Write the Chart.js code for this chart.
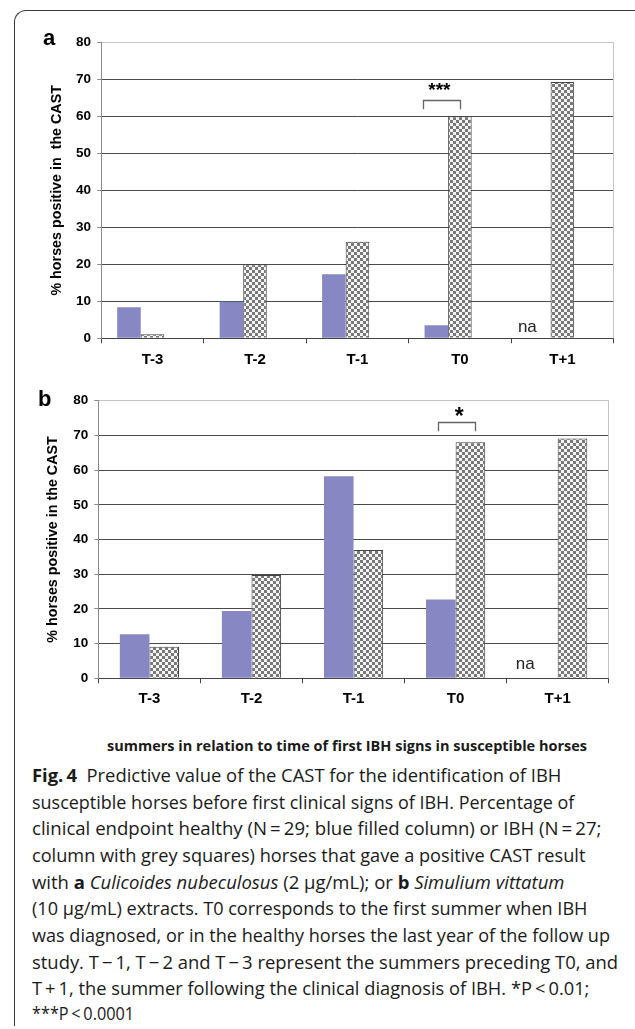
<!DOCTYPE html>
<html><head><meta charset="utf-8">
<script src="https://cdn.jsdelivr.net/npm/chart.js@4"></script>
<style>
html,body{margin:0;padding:0;background:#fff;}
body{width:635px;height:1029px;position:relative;overflow:hidden;}
#frame{position:absolute;left:14px;top:10px;width:800px;height:1015px;border-top:1px solid #3a3a3a;border-left:1px solid #3a3a3a;border-top-left-radius:12px;}
canvas{position:absolute;left:0;}
.txt{position:absolute;white-space:nowrap;transform-origin:0 50%;font-family:"Open Sans",sans-serif;color:#1a1a1a;}
</style></head><body>
<div id="frame"></div>
<canvas id="ca" width="635" height="380" style="top:0px"></canvas>
<canvas id="cb" width="635" height="352" style="top:380px"></canvas>
<script>
// ---- data ----
const categories = ['T-3', 'T-2', 'T-1', 'T0', 'T+1'];
const healthyA = [8.4, 9.9, 17.3, 3.5, null];
const ibhA     = [1.1, 20, 26.1, 60, 69.3];
const emptyA   = [null, null, null, null, null];
const healthyB = [12.7, 19.4, 58.2, 22.7, null];
const ibhB     = [9.1, 29.8, 37.0, 68, 69.1];
const yMin = 0, yMax = 80, yStep = 10;
const yTitleA = '% horses positive in  the CAST';
const yTitleB = '% horses positive in the CAST';
const xTitleB = 'summers in relation to time of first IBH signs in susceptible horses';
const naText = 'na', naCategory = 'T+1';
const sigA = {category: 'T0', text: '***'};
const sigB = {category: 'T0', text: '*'};

Chart.defaults.font.family = '"Liberation Sans", Arial, sans-serif';
Chart.defaults.color = '#000';

function checker() {
  const c = document.createElement('canvas'); c.width = 6; c.height = 6;
  const g = c.getContext('2d');
  g.fillStyle = '#f4f4f4'; g.fillRect(0, 0, 6, 6);
  g.fillStyle = '#787878'; g.fillRect(0, 0, 3, 3); g.fillRect(3, 3, 3, 3);
  return g.createPattern(c, 'repeat');
}
const BLUE = '#8788c3';

const decor = {
  id: 'decor',
  afterDatasetsDraw(chart, args, o) {
    const ctx = chart.ctx, xs = chart.scales.x, ys = chart.scales.y, a = chart.chartArea;
    ctx.save();
    ctx.strokeStyle = '#c4c4c4'; ctx.lineWidth = 1;
    const rx = Math.round(a.right) - 0.5;
    ctx.beginPath(); ctx.moveTo(rx, a.top); ctx.lineTo(rx, a.bottom); ctx.stroke();
    ctx.fillStyle = '#000';
    ctx.font = 'bold 22px "Liberation Sans", Arial';
    ctx.textAlign = 'left'; ctx.textBaseline = 'alphabetic';
    ctx.fillText(o.letter, o.letterX, o.letterY);
    // na
    const ni = categories.indexOf(naCategory);
    ctx.fillStyle = '#222';
    ctx.font = '17px "Liberation Sans", Arial';
    ctx.textAlign = 'center'; ctx.textBaseline = 'middle';
    ctx.fillText(naText, xs.getPixelForValue(ni) + o.naDx, ys.getPixelForValue(o.naY));
    // significance bracket
    const si = categories.indexOf(o.sig.category);
    const sc = xs.getPixelForValue(si);
    const x1 = Math.round(sc + o.bL) + 0.5, x2 = Math.round(sc + o.bR) + 0.5;
    const yt = Math.round(ys.getPixelForValue(o.bTop)) + 0.5, yb = ys.getPixelForValue(o.bBot);
    ctx.strokeStyle = '#666'; ctx.lineWidth = 1.3;
    ctx.beginPath(); ctx.moveTo(x1, yb); ctx.lineTo(x1, yt); ctx.lineTo(x2, yt); ctx.lineTo(x2, yb); ctx.stroke();
    ctx.fillStyle = '#000';
    ctx.font = 'bold ' + o.starSize + 'px "Liberation Sans", Arial';
    ctx.textAlign = 'center'; ctx.textBaseline = 'middle';
    ctx.fillText(o.sig.text, sc + o.starDx, ys.getPixelForValue(o.starY) + o.starSize * 0.22);
    ctx.restore();
  }
};

function makeChart(id, datasets, cfg) {
  return new Chart(document.getElementById(id), {
    type: 'bar',
    data: {labels: categories, datasets},
    plugins: [decor],
    options: {
      responsive: false, animation: false, devicePixelRatio: 1,
      layout: {padding: {left: 0, top: cfg.top, right: cfg.right, bottom: 0}},
      datasets: {bar: {categoryPercentage: cfg.cat, barPercentage: 1}},
      plugins: {legend: {display: false}, tooltip: {enabled: false}, decor: cfg.decor},
      scales: {
        x: {
          afterFit(s) { s.height = cfg.xh; },
          grid: {display: true, drawOnChartArea: false, offset: true, tickLength: 5, color: '#444', lineWidth: 1},
          border: {color: '#444', width: 1},
          ticks: {font: {size: 15, weight: 'bold'}, color: '#000', padding: cfg.xpad, maxRotation: 0}
        },
        y: {
          min: yMin, max: yMax,
          afterFit(s) { s.width = cfg.yw; },
          ticks: {stepSize: yStep, font: {size: 13.5, weight: 'bold'}, color: '#000', padding: 6.2},
          grid: {color: c => c.tick && c.tick.value === yMax ? '#c4c4c4' : '#4a4a4a', lineWidth: 1, tickLength: 4, tickColor: '#8a8a8a'},
          border: {color: '#8a8a8a', width: 1},
          title: {display: true, text: cfg.ytitle, font: {size: 14.3, weight: 'bold'}, color: '#000', padding: {top: cfg.ytp, bottom: 0}}
        }
      }
    }
  });
}

makeChart('ca', [
  {data: healthyA, backgroundColor: BLUE, borderWidth: 0},
  {data: ibhA, backgroundColor: checker(), borderColor: '#444', borderWidth: 1},
  {data: emptyA, backgroundColor: 'rgba(0,0,0,0)'}
], {top: 42.3, right: 21.4, cat: 0.69, xh: 41.7, yw: 101.3, xpad: 8, ytitle: yTitleA, ytp: 48,
   decor: {letter: 'a', letterX: 43, letterY: 45, naDx: -35, naY: 3.1,
           sig: sigA, bL: -37, bR: 0, bTop: 64.4, bBot: 61.9, starDx: -20.5, starY: 67.9, starSize: 19}});

makeChart('cb', [
  {data: healthyB, backgroundColor: BLUE, borderWidth: 0},
  {data: ibhB, backgroundColor: checker(), borderColor: '#444', borderWidth: 1}
], {top: 20.7, right: 26.3, cat: 0.58, xh: 53.7, yw: 98.4, xpad: 6.5, ytitle: yTitleB, ytp: 44.5,
   decor: {letter: 'b', letterX: 38, letterY: 26, naDx: -32.5, naY: 4.0,
           sig: sigB, bL: -18, bR: 19.3, bTop: 73.9, bBot: 71.2, starDx: 3.5, starY: 76.7, starSize: 23}});

// ---- texts ----
const capLines = [
  '<b>Fig.&thinsp;4</b>&nbsp; Predictive value of the CAST for the identification of IBH',
  'susceptible horses before first clinical signs of IBH. Percentage of',
  'clinical endpoint healthy (N\u2009=\u200929; blue filled column) or IBH (N\u2009=\u200927;',
  'column with grey squares) horses that gave a positive CAST result',
  'with <b>a</b> <i>Culicoides nubeculosus</i> (2\u00a0\u00b5g/mL); or <b>b</b> <i>Simulium vittatum</i>',
  '(10\u00a0\u00b5g/mL) extracts. T0 corresponds to the first summer when IBH',
  'was diagnosed, or in the healthy horses the last year of the follow up',
  'study. T\u2009\u2212\u20091, T\u2009\u2212\u20092 and T\u2009\u2212\u20093 represent the summers preceding T0, and',
  'T\u2009+\u20091, the summer following the clinical diagnosis of IBH. *P\u2009&lt;\u20090.01;',
  '***P\u2009&lt;\u20090.0001'
];
const capLeft = 31.6;
const capRight = [561, 574, 601, 585, 564, 587, 609.6, 617.6, 589, 133.7];
const capY = [775, 801.7, 828.3, 855, 881.7, 908, 935, 961.7, 988.3, 1013];

function place(html, left, right, cy, size, weight) {
  const d = document.createElement('div');
  d.className = 'txt';
  d.innerHTML = html;
  d.style.fontSize = size + 'px';
  d.style.lineHeight = '20px';
  d.style.fontWeight = weight;
  d.style.left = left + 'px';
  d.style.top = (cy - 10) + 'px';
  document.body.appendChild(d);
  const w = d.getBoundingClientRect().width;
  d.style.transform = 'scaleX(' + ((right - left) / w) + ')';
}
place(xTitleB, 107.3, 587.3, 745, 15, 700);
capLines.forEach((h, i) => place(h, capLeft, capRight[i], capY[i], 18, 400));
</script>
</body></html>
